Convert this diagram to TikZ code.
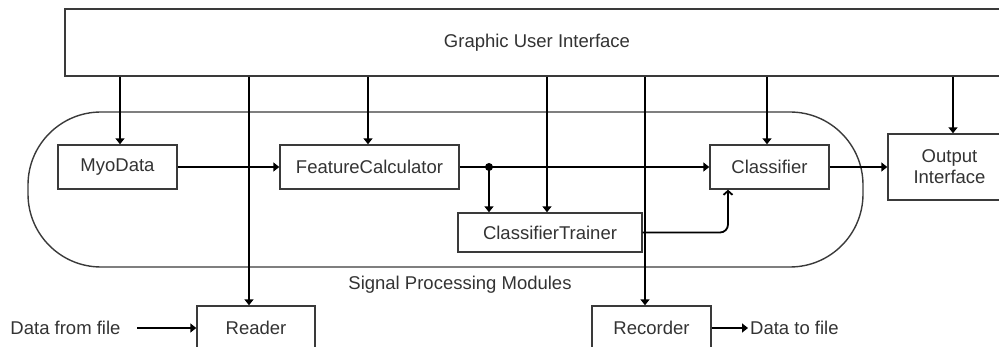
\documentclass[tikz,border=0pt]{standalone}
\usepackage{fontspec}
\setmainfont{Liberation Sans}
\usetikzlibrary{arrows.meta,calc}
\definecolor{boxc}{HTML}{3A3A3A}
\definecolor{txtc}{HTML}{333333}
\tikzset{
  box/.style={draw=boxc, line width=1.4pt, fill=white, inner sep=0pt, text=txtc,
    font=\fontsize{18.5}{21}\selectfont, align=center},
  lbl/.style={text=txtc, font=\fontsize{18.5}{21}\selectfont, inner sep=0pt},
  arr/.style={draw=black, line width=1.8pt, -{Triangle[length=6pt,width=9pt]}},
  openarr/.style={draw=black, line width=1.8pt, -{Straight Barb[length=4pt,width=9pt]}},
  ln/.style={draw=black, line width=1.8pt},
}
\begin{document}
\begin{tikzpicture}[x=1pt,y=-1pt]
\path[use as bounding box] (0,0) rectangle (999,347);
\clip (0,0) rectangle (999,347);
% container
\draw[draw=boxc, line width=1.4pt, rounded corners=73pt] (28,112) rectangle (863,267);
\node[lbl] (spm) at (460,285) {Signal Processing Modules};
% GUI
\node[box, minimum width=944pt, minimum height=67pt] (gui) at (537,42.5) {Graphic User Interface};
% modules
\node[box, minimum width=119pt, minimum height=44pt] (myo) at (117.5,167) {MyoData};
\node[box, minimum width=179pt, minimum height=44pt] (fc) at (369.5,167) {FeatureCalculator};
\node[box, minimum width=119pt, minimum height=44pt] (cls) at (769.5,167) {Classifier};
\node[box, minimum width=184pt, minimum height=39pt] (ct) at (550,232.5) {ClassifierTrainer};
\node[box, minimum width=123pt, minimum height=66pt] (out) at (949.5,167) {Output\\Interface};
\node[box, minimum width=118pt, minimum height=44pt] (rd) at (256,328) {Reader};
\node[box, minimum width=119pt, minimum height=44pt] (rc) at (651.5,328) {Recorder};
\node[lbl] (dff) at (65.5,328) {Data from file};
\node[lbl, anchor=west] (dtf) at (750,328) {Data to file};
\coordinate (dffend) at (137,328);
\coordinate (dtfend) at (748,328);
\coordinate (j) at (489,167);
% GUI arrows
\draw[arr] ([xshift=2.5]myo.north |- gui.south) -- ([xshift=2.5]myo.north);
\draw[arr] ([xshift=-7]rd.north |- gui.south) -- ([xshift=-7]rd.north);
\draw[arr] ([xshift=-1.5]fc.north |- gui.south) -- ([xshift=-1.5]fc.north);
\draw[arr] ([xshift=-3]ct.north |- gui.south) -- ([xshift=-3]ct.north);
\draw[arr] ([xshift=-6.5]rc.north |- gui.south) -- ([xshift=-6.5]rc.north);
\draw[arr] ([xshift=-2.5]cls.north |- gui.south) -- ([xshift=-2.5]cls.north);
\draw[arr] ([xshift=3.5]out.north |- gui.south) -- ([xshift=3.5]out.north);
% data flow
\draw[arr] (myo.east) -- (fc.west);
\draw[arr] (fc.east) -- (cls.west);
\fill (j) circle (4pt);
\draw[arr] (j) -- (j |- ct.north);
\draw[openarr, rounded corners=8pt] (ct.east) -| ([xshift=-41.5]cls.south);
\draw[arr] (cls.east) -- (out.west);
\draw[arr] (dffend) -- (rd.west);
\draw[arr] (rc.east) -- (dtfend);
\end{tikzpicture}
\end{document}
